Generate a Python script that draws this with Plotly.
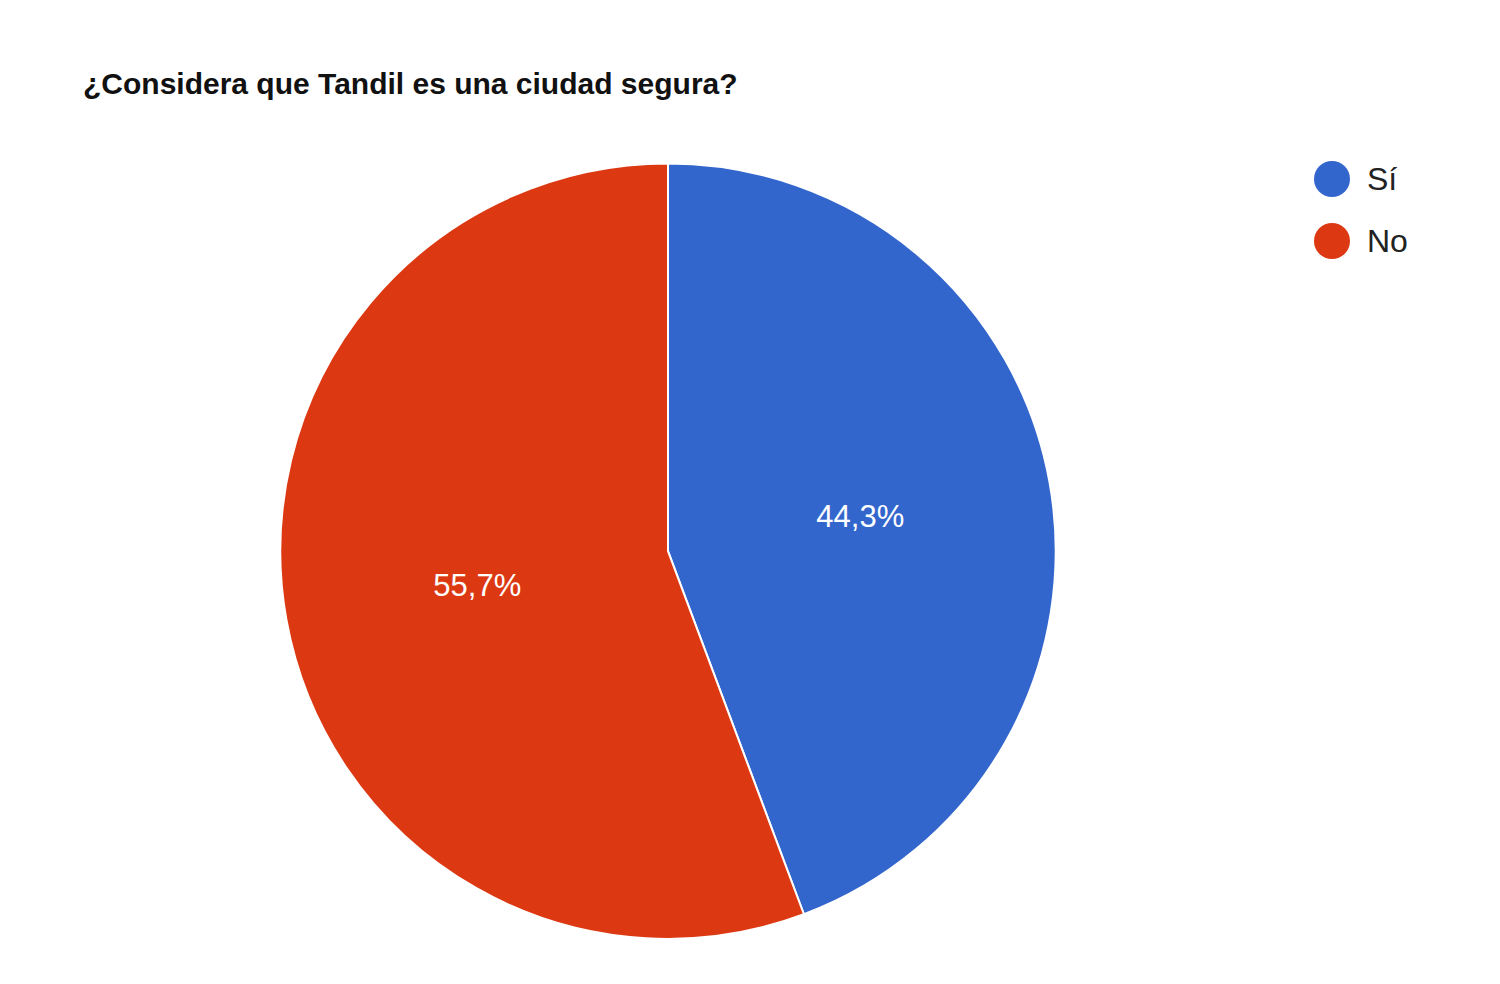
import plotly.graph_objects as go

labels = ["Sí", "No"]
values = [44.3, 55.7]
colors = ["#3366cc", "#dc3912"]
title = "¿Considera que Tandil es una ciudad segura?"

fig = go.Figure(go.Pie(
    labels=labels, values=values, sort=False, direction="clockwise", rotation=0,
    marker=dict(colors=colors, line=dict(color="white", width=2)),
    texttemplate="%{percent:.1%}", textposition="inside", insidetextorientation="horizontal",
    textfont=dict(color="white", size=31, family="Liberation Sans, Arial"),
    domain=dict(x=[0.181, 0.699], y=[0.054, 0.842]),
    showlegend=False, hoverinfo="label+percent",
))

# legend drawn by hand with round markers
for i, (lab, col) in enumerate(zip(labels, colors)):
    yc = 171 + i * 62
    fig.add_shape(type="circle", xref="paper", yref="paper",
                  x0=1306 / 1500, x1=1342 / 1500, y0=1 - (yc + 18) / 984, y1=1 - (yc - 18) / 984,
                  fillcolor=col, line=dict(width=0))
    fig.add_annotation(text=lab, xref="paper", yref="paper", x=1357 / 1500, y=1 - yc / 984,
                       xanchor="left", yanchor="middle", showarrow=False,
                       font=dict(size=32, color="#222222", family="Liberation Sans, Arial"))

fig.update_layout(
    width=1500, height=984, margin=dict(l=0, r=0, t=0, b=0),
    paper_bgcolor="white", separators=",.",
    title=dict(text="<b>" + title + "</b>", x=75 / 1500, xanchor="left", y=1 - 75 / 984, yanchor="middle",
               font=dict(size=30, color="#111111", family="Liberation Sans, Arial")),
)
fig.write_html("out.html")
